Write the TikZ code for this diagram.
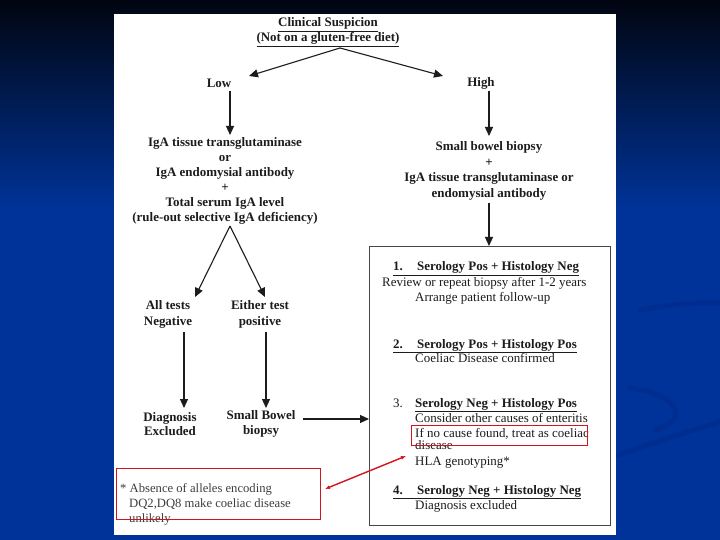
\documentclass[tikz,border=0pt]{standalone}
\usepackage{fontspec}
\setmainfont{Liberation Serif}
\usetikzlibrary{arrows.meta,calc}
\definecolor{bluec}{RGB}{0,51,153}
\definecolor{topc}{RGB}{1,5,16}
\definecolor{swc}{RGB}{0,45,143}
\definecolor{ink}{RGB}{28,28,28}
\definecolor{boxc}{RGB}{70,70,70}
\definecolor{redc}{RGB}{210,20,30}
\begin{document}
\begin{tikzpicture}[x=1bp,y=-1bp,
  bt/.style={font=\fontsize{13}{15}\selectfont\bfseries,align=center,inner sep=0pt,text=ink},
  rt/.style={font=\fontsize{13}{14}\selectfont,inner sep=0pt,text=ink,anchor=base west},
  ft/.style={font=\fontsize{12.7}{14}\selectfont,inner sep=0pt,text=ink!85,anchor=base west},
  hd/.style={font=\fontsize{13}{14}\selectfont\bfseries,inner sep=0pt,text=ink,anchor=base west},
  arr/.style={draw=ink,line width=1.1bp,-{Triangle[length=9bp,width=8bp]}},
  redbox/.style={draw=redc,line width=1.3bp,inner sep=0pt,anchor=north west},
  redarr/.style={draw=redc,line width=1.4bp,{Latex[length=5bp,width=4bp]}-{Latex[length=5bp,width=4bp]}},
]
\useasboundingbox (0,0) rectangle (720,540);
% background
\fill[bluec] (0,0) rectangle (720,540);
\shade[top color=topc,bottom color=bluec] (0,0) rectangle (720,210);
\draw[swc,line width=5bp,line cap=round] (640,310) .. controls (670,304) and (700,302) .. (720,303);
\draw[swc,line width=5bp,line cap=round] (630,388) .. controls (680,395) and (690,420) .. (655,430);
\draw[swc,line width=5bp,line cap=round] (618,455) .. controls (660,440) and (700,428) .. (720,422);
% panel
\fill[white] (114,14) rectangle (616,535);

% top
\node[bt] (clin) at (328,32) {\underline{Clinical Suspicion}\\\underline{(Not on a gluten-free diet)}};
\coordinate (apex) at (340,48);
\node[bt] (low) at (219,83) {Low};
\node[bt] (high) at (481,83) {High};
\coordinate (lowin) at (249,76);
\coordinate (highin) at (443,76);
\draw[arr] (apex) -- (lowin);
\draw[arr] (apex) -- (highin);

% left branch
\node[bt] (tests) at (225,181) {IgA tissue transglutaminase\\or\\IgA endomysial antibody\\+\\Total serum IgA level\\(rule-out selective IgA deficiency)};
\coordinate (lowout) at (230,91);
\draw[arr] (lowout) -- (230,135);

\coordinate (fork) at (230,226);
\coordinate (negin) at (195,297);
\coordinate (posin) at (265,297);
\draw[arr] (fork) -- (negin);
\draw[arr] (fork) -- (posin);

\node[bt,font=\fontsize{13}{16}\selectfont\bfseries] (neg) at (168,314) {All tests\\Negative};
\node[bt,font=\fontsize{13}{16}\selectfont\bfseries] (pos) at (260,314) {Either test\\positive};
\node[bt,font=\fontsize{13}{14.5}\selectfont\bfseries] (excl) at (170,424) {Diagnosis\\Excluded};
\node[bt,font=\fontsize{13}{14.5}\selectfont\bfseries] (sbb) at (261,424) {Small Bowel\\biopsy};
\coordinate (negout) at (184,332);
\coordinate (posout) at (266,332);
\draw[arr] (negout) -- (184,408);
\draw[arr] (posout) -- (266,408);

% right branch
\node[bt,font=\fontsize{13}{15.5}\selectfont\bfseries] (biopsy) at (489,171) {Small bowel biopsy\\+\\IgA tissue transglutaminase or\\endomysial antibody};
\coordinate (highout) at (489,91);
\draw[arr] (highout) -- (489,136);

\node[draw=boxc,line width=1.2bp,minimum width=241bp,minimum height=279bp,inner sep=0pt,anchor=north west] (res) at (369,246) {};
\coordinate (bout) at (489,203);
\draw[arr] (bout) -- (bout |- res.north);
\coordinate (sbbout) at (303,419);
\draw[arr] (sbbout) -- (sbbout -| res.west);

% box content
\node[hd] (h1) at (393,271) {\underline{1.\hspace{1.1em}Serology Pos + Histology Neg}};
\node[rt] (r1a) at (382,287) {Review or repeat biopsy after 1-2 years};
\node[rt] (r1b) at (415,301) {Arrange patient follow-up};
\node[hd] (h2) at (393,348) {\underline{2.\hspace{1.1em}Serology Pos + Histology Pos}};
\node[rt] (r2a) at (415,362) {Coeliac Disease confirmed};
\node[rt] (n3) at (393,407) {3.};
\node[hd] (h3) at (415,407) {\underline{Serology Neg + Histology Pos}};
\node[rt] (r3a) at (415,422) {Consider other causes of enteritis};
\node[rt] (r3b) at (415,437) {If no cause found, treat as coeliac};
\node[rt] (r3c) at (415,449) {disease};
\node[rt] (r3d) at (415,465) {HLA genotyping*};
\node[hd] (h4) at (393,494) {\underline{4.\hspace{1.1em}Serology Neg + Histology Neg}};
\node[rt] (r4a) at (415,509) {Diagnosis excluded};

% footnote
\node[ft] (f1) at (120,492) {* Absence of alleles encoding};
\node[ft] (f2) at (129,507) {DQ2,DQ8 make coeliac disease};
\node[ft] (f3) at (129,522) {unlikely};

% red marks
\node[redbox,minimum width=176bp,minimum height=20bp] (redA) at (411,425) {};
\node[redbox,minimum width=204bp,minimum height=51bp] (redB) at (116,468) {};
\coordinate (ra1) at (406,456);
\coordinate (ra2) at (325,489);
\draw[redarr] (ra2) -- (ra1);
\end{tikzpicture}
\end{document}
